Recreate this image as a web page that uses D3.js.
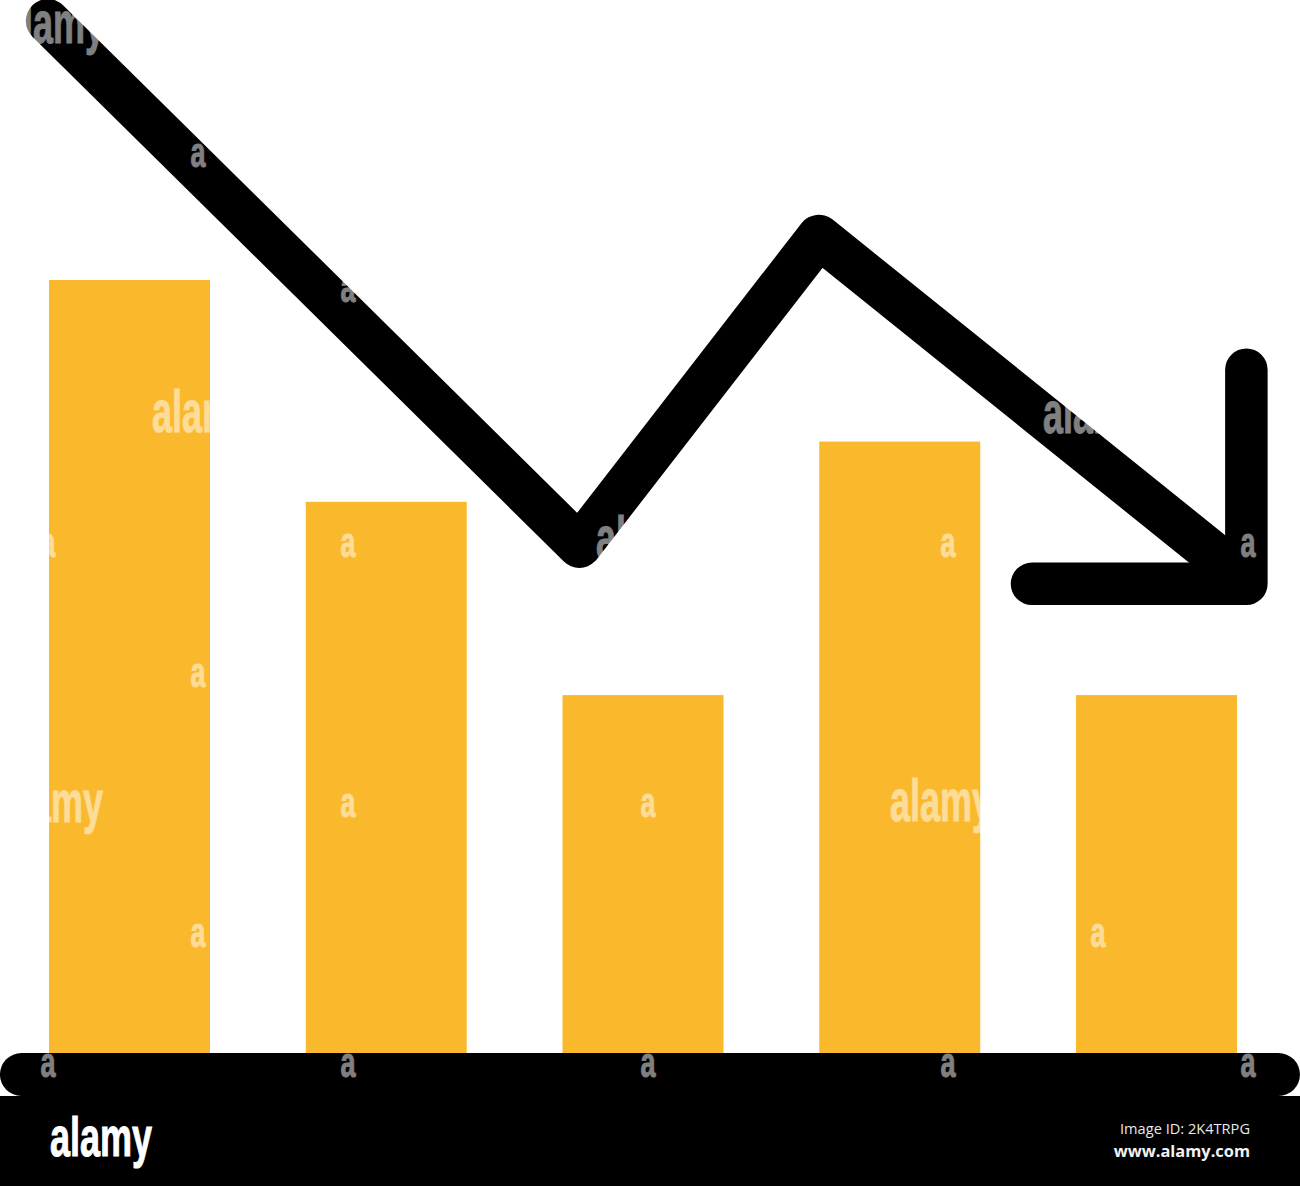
<!DOCTYPE html>
<html><head><meta charset="utf-8">
<script src="https://cdn.jsdelivr.net/npm/d3@7/dist/d3.min.js"></script>
<style>html,body{margin:0;padding:0;background:#fff;overflow:hidden}svg{display:block}</style>
</head><body><svg id="c" width="1300" height="1186"></svg>
<script>
const categories = ["A","B","C","D","E"];
const barValues = [100, 71.3, 46.3, 79.1, 46.3];
// trend line: position on the category axis (0 = first bar centre, 1 = second...) and value
const linePos = [-0.318, 1.752, 2.685, 4.325];
const lineVal = [133.5, 65.6, 105.6, 61.8];
const arrowPos = [4.35, 4.35, 3.515];
const arrowVal = [88.4, 60.7, 60.7];
const baselinePos = [-0.4207, 4.475];
const baselineVal = [-2.78, -2.78];
const footerId = "Image ID: 2K4TRPG";
const footerUrl = "www.alamy.com";
const footerLogo = "alamy";
const smallMarks = [[198,155],[348,290],[48,545],[348,545],[948,545],[1248,545],[198,675],[348,805],[648,805],[198,935],[1098,935],[48,1065],[348,1065],[648,1065],[948,1065],[1248,1065]];
const bigMarks = [[3,25],[1,804],[890,803],[152,414],[1043,415],[596,540]];

const svg = d3.select("#c");
const x = d3.scaleBand().domain(categories).range([49,1237]).paddingInner(0.373).paddingOuter(0);
const y = d3.scaleLinear().domain([0,100]).range([1053,280]);
const px = d3.scaleLinear().domain([0,4]).range([x("A")+x.bandwidth()/2, x("E")+x.bandwidth()/2]);
const line = d3.line().x(d=>px(d[0])).y(d=>y(d[1]));

svg.selectAll("rect.bar").data(categories).join("rect").attr("class","bar")
  .attr("x",d=>x(d)).attr("width",x.bandwidth())
  .attr("y",(d,i)=>y(barValues[i])).attr("height",(d,i)=>y(0)-y(barValues[i]))
  .attr("fill","#FAB92D");

const stroke = (data,w)=>svg.append("path").attr("d",line(d3.zip(...data))).attr("fill","none")
  .attr("stroke","#000").attr("stroke-width",w).attr("stroke-linecap","round").attr("stroke-linejoin","round");
stroke([linePos,lineVal],44);
stroke([arrowPos,arrowVal],42.5);
stroke([baselinePos,baselineVal],43);
svg.append("rect").attr("x",0).attr("y",y(-5.56)).attr("width",1300).attr("height",1186-y(-5.56)).attr("fill","#000");

const narrow = "'Liberation Sans Narrow','Liberation Sans',Arial,sans-serif";
const wm = svg.append("g").attr("fill","#fff").attr("stroke","#fff").attr("stroke-width",0.9).attr("opacity",0.5)
  .attr("font-family",narrow).attr("font-weight",700);
wm.selectAll("text.s").data(smallMarks).join("text").attr("class","s")
  .attr("x",d=>d[0]-7.5).attr("y",d=>d[1]+12).attr("font-size",42)
  .attr("textLength",15).attr("lengthAdjust","spacingAndGlyphs").text("a");
wm.selectAll("text.b").data(bigMarks).join("text").attr("class","b")
  .attr("x",d=>d[0]).attr("y",d=>d[1]+18).attr("font-size",60)
  .attr("textLength",102).attr("lengthAdjust","spacingAndGlyphs").text(footerLogo);

svg.append("text").attr("x",50).attr("y",1156).attr("fill","#fff").attr("stroke","#fff").attr("stroke-width",1).attr("font-size",55).attr("font-weight",700)
  .attr("font-family",narrow)
  .attr("textLength",102).attr("lengthAdjust","spacingAndGlyphs").text(footerLogo);
svg.append("text").attr("x",1250).attr("y",1134).attr("text-anchor","end").attr("fill","#e8e8e8").attr("font-size",14.6)
  .attr("font-family","'Open Sans','Noto Sans',sans-serif").text(footerId);
svg.append("text").attr("x",1250).attr("y",1157).attr("text-anchor","end").attr("fill","#f2f2f2").attr("font-size",16.4).attr("font-weight",700)
  .attr("font-family","'Open Sans','Noto Sans',sans-serif").text(footerUrl);
</script></body></html>
